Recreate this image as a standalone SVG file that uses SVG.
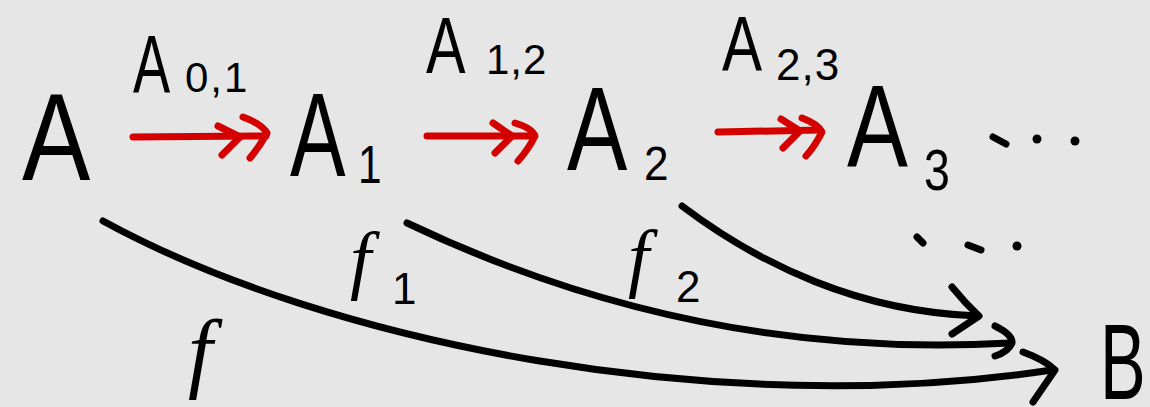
<svg xmlns="http://www.w3.org/2000/svg" width="1150" height="407" viewBox="0 0 1150 407">
<style>
.bg{fill:#e6e6e6}
.big{font-family:"Liberation Sans",Arial,sans-serif;fill:#000}
.fl{font-family:"Liberation Serif","Times New Roman",serif;font-style:italic;fill:#000}
.red{fill:none;stroke:#d40000;stroke-width:7;stroke-linecap:round;stroke-linejoin:round}
.blk{fill:none;stroke:#000;stroke-width:7;stroke-linecap:round;stroke-linejoin:round}
.dot{fill:#000}
</style>
<rect class="bg" x="0" y="0" width="1150" height="407"/>
<g id="node-A"><text class="big" transform="translate(22,180) scale(0.82,1)" font-size="125">A</text></g>
<g id="node-A1"><text class="big" transform="translate(290,176) scale(0.7,1)" font-size="119">A</text><text class="big" transform="translate(358,183) scale(0.8,1)" font-size="53">1</text></g>
<g id="node-A2"><text class="big" transform="translate(567,170) scale(0.76,1)" font-size="119">A</text><text class="big" transform="translate(644,180) scale(0.9,1)" font-size="49">2</text></g>
<g id="node-A3"><text class="big" transform="translate(847,167) scale(0.78,1)" font-size="117">A</text><text class="big" transform="translate(924,190) scale(0.8,1)" font-size="58">3</text></g>
<g id="dots-top"><path class="blk" d="M993,137 L1006,144"/><circle class="dot" cx="1037" cy="139" r="4.5"/><circle class="dot" cx="1075" cy="141" r="4.5"/></g>
<g id="dots-bottom"><path class="blk" d="M917,237 L923,243"/><path class="blk" d="M968,245 L981,250"/><circle class="dot" cx="1017" cy="246" r="4.5"/></g>
<g id="node-B"><text class="big" transform="translate(1100,399) scale(0.64,1)" font-size="107">B</text></g>
<g id="connectors">
<g id="e-A-A1">
<path class="red" d="M133,137 L266,136"/>
<path class="red" d="M218,126 L240,137 L222,155"/>
<path class="red" d="M243,117 Q262,124 267,133 Q260,146 250,158"/>
</g>
<g id="e-A1-A2">
<path class="red" d="M427,136 L533,136"/>
<path class="red" d="M493,123 L512,136 L495,153"/>
<path class="red" d="M515,123 Q532,128 535,136 Q528,150 518,161"/>
</g>
<g id="e-A2-A3">
<path class="red" d="M718,132 L820,130"/>
<path class="red" d="M781,119 L800,131 L783,148"/>
<path class="red" d="M802,118 Q818,124 822,132 Q815,146 806,156"/>
</g>
<g id="e-f">
<path class="blk" d="M103,221 C330,345 720,420 1052,370"/>
<path class="blk" d="M1023,352 Q1045,360 1055,370 L1033,402"/>
</g>
<g id="e-f1">
<path class="blk" d="M407,223 C600,315 800,355 1010,343"/>
<path class="blk" d="M995,326 Q1013,335 1012,343 Q1008,352 995,356"/>
</g>
<g id="e-f2">
<path class="blk" d="M682,206 C760,265 860,312 978,316"/>
<path class="blk" d="M952,287 Q965,303 979,316 L952,334"/>
</g>
</g>
<g id="labels">
<text class="big" transform="translate(133,92) scale(0.68,1)" font-size="82">A</text>
<text class="big" x="185" y="92" font-size="42" letter-spacing="2">0,1</text>
<text class="big" transform="translate(426,73) scale(0.75,1)" font-size="79">A</text>
<text class="big" x="486" y="74" font-size="42" letter-spacing="1">1,2</text>
<text class="big" transform="translate(722,71) scale(0.77,1)" font-size="78">A</text>
<text class="big" x="776" y="80" font-size="44" letter-spacing="1">2,3</text>
<text class="fl" x="188" y="381" font-size="88">f</text>
<text class="fl" x="350" y="285" font-size="76">f</text>
<text class="big" x="392" y="304" font-size="44">1</text>
<text class="fl" x="628" y="283" font-size="76">f</text>
<text class="big" x="676" y="302" font-size="44">2</text>
</g>
</svg>
